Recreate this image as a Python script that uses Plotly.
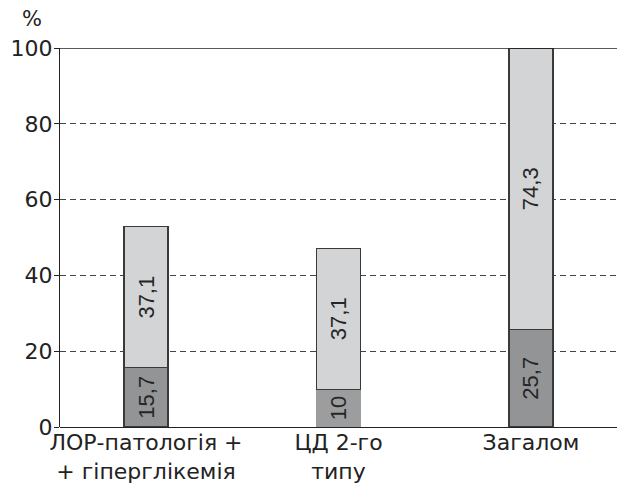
import plotly.graph_objects as go

# Categories and stacked shares (%)
categories = ["ЛОР-патологія +<br>+ гіперглікемія", "ЦД 2-го<br>типу", "Загалом"]
lower_values = [15.7, 10.0, 25.7]
upper_values = [37.1, 37.1, 74.3]
lower_labels = ["15,7", "10", "25,7"]
upper_labels = ["37,1", "37,1", "74,3"]
y_ticks = [0, 20, 40, 60, 80, 100]

AXIS_FONT = "DejaVu Sans, Liberation Sans, sans-serif"
BAR_FONT = "Liberation Sans, Arial, sans-serif"
x_pos = list(range(len(categories)))

fig = go.Figure()
fig.add_trace(go.Bar(
    x=x_pos, y=lower_values, width=0.229,
    text=lower_labels, textposition="inside", insidetextanchor="middle",
    textangle=-90, textfont=dict(family=BAR_FONT, size=22, color="#262626"),
    marker=dict(color=["#939496", "#9c9d9f", "#939496"],
                line=dict(color="#3a3a3a", width=[1.2, 0, 1.2])),
    hoverinfo="skip",
))
fig.add_trace(go.Bar(
    x=x_pos, y=upper_values, width=0.229,
    text=upper_labels, textposition="inside", insidetextanchor="middle",
    textangle=-90, textfont=dict(family=BAR_FONT, size=22, color="#262626"),
    marker=dict(color="#d3d4d6", line=dict(color="#3a3a3a", width=1.2)),
    hoverinfo="skip",
))

# solid frame line at the top of the value axis
fig.add_shape(type="line", xref="paper", yref="y", x0=0, x1=1, y0=100, y1=100,
              line=dict(color="#222222", width=1.3))

fig.add_annotation(text="%", xref="paper", yref="paper", x=-0.05, y=1.0,
                   yshift=29, xanchor="center", yanchor="middle", showarrow=False,
                   font=dict(family=AXIS_FONT, size=21, color="#222222"))

fig.update_layout(
    barmode="stack",
    width=617, height=486,
    margin=dict(l=60, r=0, t=48, b=59),
    paper_bgcolor="white", plot_bgcolor="white",
    showlegend=False,
    font=dict(family=AXIS_FONT, color="#222222"),
    uniformtext=dict(mode="show", minsize=10),
)
fig.update_xaxes(
    range=[-0.447, 2.447], tickvals=x_pos, ticktext=categories,
    tickfont=dict(family=AXIS_FONT, size=22, color="#222222"),
    showgrid=False, zeroline=False, showline=False, ticks="",
)
fig.update_yaxes(
    range=[0, 100], tickvals=y_ticks, ticktext=[str(v) for v in y_ticks],
    tickfont=dict(family=AXIS_FONT, size=22, color="#222222"),
    showgrid=True, gridcolor="#444444", gridwidth=1, griddash="6px,4px",
    zeroline=True, zerolinecolor="#222222", zerolinewidth=1.3,
    showline=True, linecolor="#222222", linewidth=1.3,
    ticks="outside", ticklen=5, tickcolor="#222222", tickwidth=1.3,
    ticklabelstandoff=-3,
)

fig.write_html("out.html")
